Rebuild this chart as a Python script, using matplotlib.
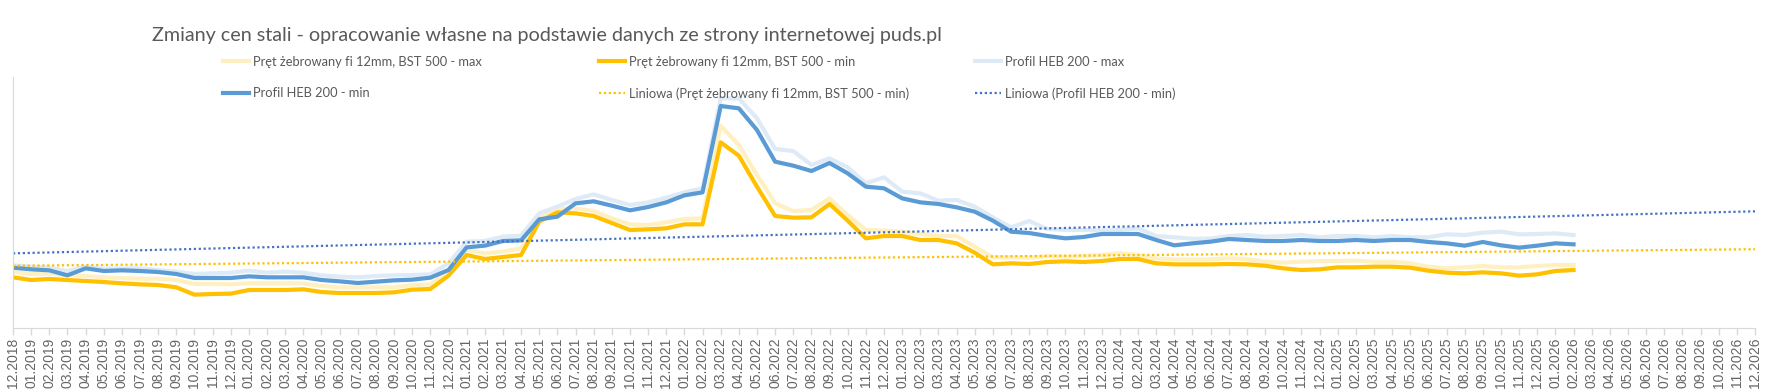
import numpy as np
import matplotlib
matplotlib.use('Agg')
from matplotlib import pyplot as plt

# miesiące od 12.2018 do 12.2026
labels = ['12.2018'] + ['%02d.%d' % (m, y) for y in range(2019, 2027) for m in range(1, 13)]

# ceny (oś bez opisu) - od 12.2018 do 02.2026
pret_max = [2350, 2280, 2280, 2250, 2220, 2180, 2160, 2140, 2140, 2100, 1980, 1980, 1970, 2000, 2000, 2000,
            2000, 1920, 1880, 1880, 1880, 1880, 1950, 1970, 2350, 3000, 2900, 2950, 3050, 4030, 4230, 4250,
            4170, 3950, 3770, 3750, 3830, 3930, 3950, 6730, 6150, 5250, 4400, 4170, 4200, 4550, 4050, 3600,
            3580, 3550, 3480, 3420, 3420, 3100, 2780, 2780, 2770, 2820, 2800, 2820, 2850, 2900, 2850, 2750,
            2720, 2720, 2720, 2750, 2730, 2650, 2620, 2650, 2670, 2670, 2680, 2650, 2650, 2600, 2500, 2450,
            2480, 2520, 2480, 2480, 2520, 2550, 2550]
pret_min = [2180, 2100, 2130, 2100, 2070, 2040, 2000, 1970, 1950, 1880, 1660, 1680, 1690, 1800, 1800, 1800,
            1820, 1740, 1710, 1710, 1710, 1730, 1810, 1830, 2230, 2850, 2730, 2790, 2850, 3850, 4130, 4100,
            4020, 3810, 3600, 3620, 3650, 3770, 3770, 6230, 5830, 4900, 4020, 3970, 3980, 4380, 3880, 3350,
            3420, 3420, 3300, 3300, 3200, 2920, 2570, 2600, 2580, 2640, 2660, 2640, 2670, 2730, 2730, 2600,
            2570, 2570, 2570, 2580, 2570, 2530, 2450, 2400, 2420, 2480, 2480, 2500, 2500, 2470, 2380, 2320,
            2300, 2330, 2300, 2230, 2270, 2370, 2400]
heb_max = [2540, 2500, 2470, 2370, 2500, 2440, 2450, 2450, 2400, 2350, 2280, 2300, 2320, 2380, 2320, 2350,
           2320, 2240, 2200, 2180, 2220, 2240, 2250, 2270, 2600, 3250, 3270, 3400, 3430, 4100, 4300, 4530,
           4670, 4500, 4350, 4430, 4570, 4730, 4850, 7550, 7550, 6950, 6030, 5970, 5550, 5750, 5480, 5000,
           5180, 4750, 4700, 4480, 4500, 4300, 3980, 3680, 3870, 3630, 3600, 3600, 3580, 3600, 3650, 3420,
           3380, 3340, 3340, 3420, 3450, 3400, 3420, 3450, 3380, 3420, 3420, 3380, 3420, 3380, 3380, 3470,
           3450, 3520, 3550, 3470, 3480, 3500, 3450]
heb_min = [2470, 2420, 2390, 2240, 2450, 2370, 2390, 2370, 2340, 2280, 2160, 2160, 2160, 2210, 2180, 2180,
           2180, 2100, 2060, 2010, 2050, 2090, 2110, 2170, 2400, 3080, 3130, 3270, 3290, 3920, 4000, 4400,
           4460, 4330, 4190, 4290, 4430, 4640, 4730, 7320, 7250, 6600, 5650, 5530, 5370, 5610, 5300, 4900,
           4850, 4550, 4430, 4380, 4280, 4150, 3880, 3550, 3510, 3420, 3350, 3390, 3480, 3480, 3480, 3300,
           3140, 3200, 3250, 3330, 3300, 3270, 3270, 3300, 3270, 3270, 3300, 3270, 3300, 3300, 3240, 3200,
           3130, 3240, 3140, 3070, 3130, 3200, 3170]

x_all = np.arange(len(labels))
x = np.arange(len(pret_min))

# linie trendu (liniowa) przedłużone do końca osi
a1, b1 = np.polyfit(x, pret_min, 1)
a2, b2 = np.polyfit(x, heb_min, 1)

fig = plt.figure(figsize=(17.73, 3.91), dpi=100)
ax = fig.add_axes([13 / 1773, 63 / 391, (1755 - 13) / 1773, 251 / 391])

l1, = ax.plot(x, pret_max, color='#FFF0C2', lw=3, solid_joinstyle='round')
l2, = ax.plot(x, pret_min, color='#FFC000', lw=3, solid_joinstyle='round')
l3, = ax.plot(x, heb_max, color='#DEEBF7', lw=3, solid_joinstyle='round')
l4, = ax.plot(x, heb_min, color='#5B9BD5', lw=3, solid_joinstyle='round')
l5, = ax.plot(x_all, a1 * x_all + b1, color='#FFC000', lw=1.6, ls=(0, (1, 1.2)))
l6, = ax.plot(x_all, a2 * x_all + b2, color='#4472C4', lw=1.6, ls=(0, (1, 1.2)))

ax.set_xlim(0, 96)
ax.set_ylim(660, 8190)
ax.set_xticks(x_all)
ax.set_xticklabels(labels, rotation=90, fontsize=10, color='#666666', family='Liberation Sans')
ax.tick_params(axis='x', length=5, width=1, color='#d9d9d9', pad=2)
ax.set_yticks([])
for s in ['top', 'right']:
    ax.spines[s].set_visible(False)
ax.spines['left'].set_color('#d9d9d9')
ax.spines['bottom'].set_color('#d9d9d9')

fig.text(152 / 1773, 1 - 35 / 391, 'Zmiany cen stali - opracowanie własne na podstawie danych ze strony internetowej puds.pl',
         fontsize=14.2, color='#595959', family='Lato', va='center', ha='left')

names = ['Pręt żebrowany fi 12mm, BST 500 - max', 'Pręt żebrowany fi 12mm, BST 500 - min', 'Profil HEB 200 - max',
         'Profil HEB 200 - min', 'Liniowa (Pręt żebrowany fi 12mm, BST 500 - min)', 'Liniowa (Profil HEB 200 - min)']
cols = [([l1, l4], [names[0], names[3]], 223), ([l2, l5], [names[1], names[4]], 599), ([l3, l6], [names[2], names[5]], 975)]
for h, n, px in cols:
    fig.legend(h, n, loc='upper left', bbox_to_anchor=(px / 1773, 1 - 56 / 391), frameon=False,
               borderpad=0, borderaxespad=0, handlelength=2.0, handletextpad=0.3, labelspacing=1.5,
               prop={'family': 'Lato', 'size': 9.3}, labelcolor='#595959')

fig.savefig('out.png', dpi=100)
